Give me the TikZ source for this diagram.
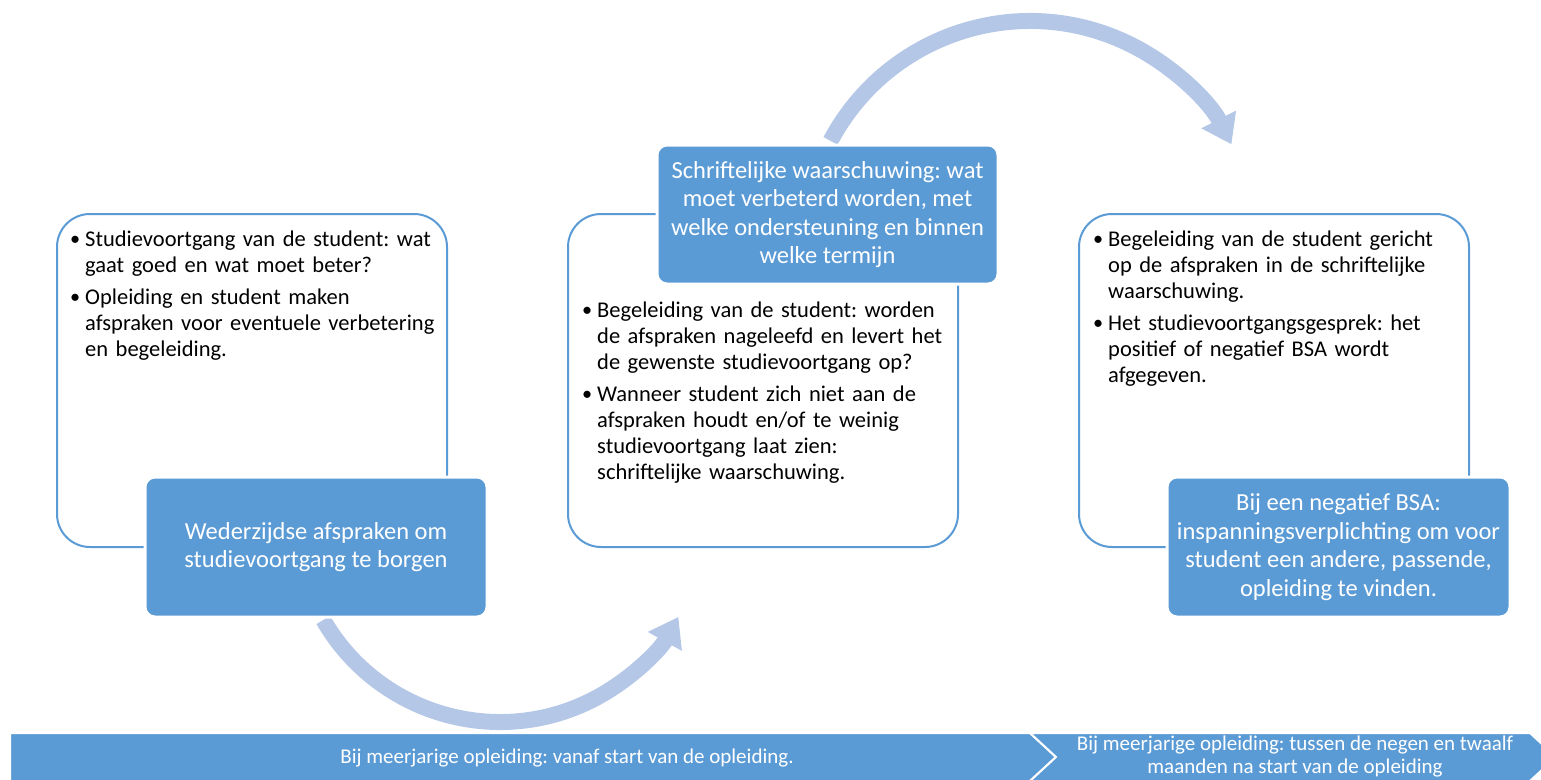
\documentclass[tikz,border=0pt]{standalone}
\usepackage{fontspec}
\setmainfont{Carlito}
\usetikzlibrary{arrows.meta}
\definecolor{smartblue}{HTML}{5B9BD5}
\definecolor{arcblue}{HTML}{B4C7E7}
\newcommand{\blt}[1]{\par\leftskip=15pt\noindent\llap{\makebox[15pt][l]{\raisebox{1pt}{\scalebox{0.9}{\textbullet}}}}#1\par}
\begin{document}
\frenchspacing
\begin{tikzpicture}[x=1pt,y=-1pt,
  outlinebox/.style={draw=smartblue,line width=2pt,fill=white,rounded corners=33pt,
    minimum width=390pt,minimum height=333pt,inner sep=0pt},
  fillbox/.style={fill=smartblue,draw=white,line width=3pt,rounded corners=10pt,
    minimum width=342pt,minimum height=140pt,text=white,align=center,inner sep=0pt,
    font=\fontsize{24.5}{28.5}\selectfont},
  bullets/.style={anchor=base west,inner sep=0pt,text width=400pt,align=left,
    font=\fontsize{22.5}{26}\selectfont\frenchspacing},
  bandarrow/.style={arcblue,line width=16pt,-{Triangle[width=37pt,length=28pt]}},
  barpart/.style={fill=smartblue,draw=white,line width=2pt},
  bartext/.style={text=white,align=center,font=\fontsize{21}{23}\selectfont\frenchspacing}]
  \useasboundingbox (0,0) rectangle (1541,779);
  \clip (0,0) rectangle (1541,779);

  % curved arrows behind the boxes
  \coordinate (tailA) at (323.3,620);
  \coordinate (tailB) at (830.5,140.9);
  \draw[bandarrow] (tailA) arc[start angle=150, end angle=29, radius=204];
  \draw[bandarrow] (tailB) arc[start angle=208, end angle=333, radius=226];

  % outline boxes
  \node[outlinebox] (talkbox) at (252,380.5) {};
  \node[outlinebox] (warnbox) at (763,380.5) {};
  \node[outlinebox] (bsabox) at (1274,380.5) {};

  % filled titles
  \node[fillbox] (talk) at (316,547) {Wederzijdse afspraken om\\studievoortgang te borgen};
  \node[fillbox,minimum width=341pt,minimum height=139pt] (warn) at (827.5,214.5)
    {Schriftelijke waarschuwing: wat\\moet verbeterd worden, met\\welke ondersteuning en binnen\\welke termijn};
  \node[fillbox,minimum width=343pt] (bsa) at (1338.5,547)
    {Bij een negatief BSA:\\inspanningsverplichting om voor\\student een andere, passende,\\opleiding te vinden.};

  % bullet texts
  \node[bullets] (talklist) at (70,220) {%
    \blt{Studievoortgang van de student: wat\\gaat goed en wat moet beter?}\vspace{6pt}
    \blt{Opleiding en student maken\\afspraken voor eventuele verbetering\\en begeleiding.}};
  \node[bullets] (warnlist) at (582,291) {%
    \blt{Begeleiding van de student: worden\\de afspraken nageleefd en levert het\\de gewenste studievoortgang op?}\vspace{6pt}
    \blt{Wanneer student zich niet aan de\\afspraken houdt en/of te weinig\\studievoortgang laat zien:\\schriftelijke waarschuwing.}};
  \node[bullets] (bsalist) at (1093,220) {%
    \blt{Begeleiding van de student gericht\\op de afspraken in de schriftelijke\\waarschuwing.}\vspace{6pt}
    \blt{Het studievoortgangsgesprek: het\\positief of negatief BSA wordt\\afgegeven.}};

  % timeline bar
  \draw[barpart] (10,733) -- (1030,733) -- (1056,757) -- (1030,781) -- (10,781) -- cycle;
  \draw[barpart] (1030,733) -- (1530,733) -- (1556,757) -- (1530,781) -- (1030,781) -- (1056,757) -- cycle;
  \node[bartext] (startnote) at (567,758) {Bij meerjarige opleiding: vanaf start van de opleiding.};
  \node[bartext] (latenote) at (1295,757) {Bij meerjarige opleiding: tussen de negen en twaalf\\maanden na start van de opleiding};
\end{tikzpicture}
\end{document}
